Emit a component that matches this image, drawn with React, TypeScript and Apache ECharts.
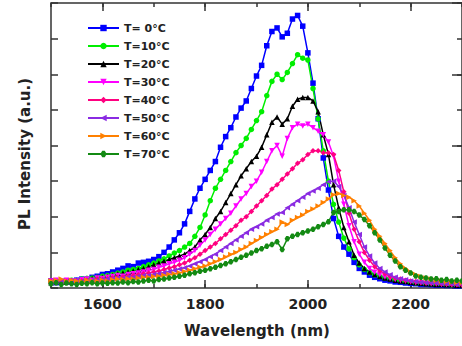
import React, { useEffect, useRef } from "react";
import * as echarts from "echarts";

const wavelengths: number[] = Array.from({ length: 81 }, (_, i) => 1500 + 10 * i);

const seriesNames = ["T= 0°C", "T=10°C", "T=20°C", "T=30°C", "T=40°C", "T=50°C", "T=60°C", "T=70°C"];

const t0 = [
  0.2, 0.15, 0.18, 0.2, 0.17, 0.22, 0.25, 0.24, 0.3, 0.33,
  0.38, 0.4, 0.45, 0.5, 0.55, 0.62, 0.6, 0.7, 0.72, 0.75,
  0.8, 0.88, 1.0, 1.15, 1.35, 1.55, 1.8, 2.15, 2.5, 2.8,
  3.05, 3.3, 3.55, 3.95, 4.25, 4.5, 4.8, 5.05, 5.25, 5.6,
  5.95, 6.25, 6.8, 7.2, 7.3, 7.05, 7.15, 7.55, 7.65, 7.35,
  6.6, 5.75, 4.75, 3.65, 2.75, 1.95, 1.45, 1.15, 0.95, 0.72,
  0.55, 0.45, 0.36, 0.3, 0.26, 0.22, 0.2, 0.17, 0.16, 0.14,
  0.13, 0.12, 0.1, 0.1, 0.09, 0.08, 0.08, 0.07, 0.07, 0.06,
  0.06,
];
const t10 = [
  0.18, 0.2, 0.16, 0.2, 0.22, 0.2, 0.25, 0.27, 0.28, 0.3,
  0.33, 0.35, 0.38, 0.42, 0.45, 0.5, 0.52, 0.55, 0.6, 0.65,
  0.7, 0.76, 0.82, 0.9, 0.98, 1.05, 1.15, 1.25, 1.45, 1.7,
  2.05, 2.45, 2.8, 3.05, 3.3, 3.55, 3.8, 4.0, 4.2, 4.45,
  4.7, 4.95, 5.4, 5.8, 6.0, 5.85, 6.05, 6.3, 6.55, 6.45,
  6.4, 5.6, 4.75, 3.85, 3.0, 2.35, 1.85, 1.4, 1.1, 0.85,
  0.65, 0.52, 0.43, 0.37, 0.32, 0.28, 0.25, 0.22, 0.2, 0.18,
  0.16, 0.14, 0.13, 0.12, 0.11, 0.1, 0.1, 0.09, 0.08, 0.08,
  0.07,
];
const t20 = [
  0.15, 0.18, 0.2, 0.17, 0.2, 0.22, 0.2, 0.25, 0.27, 0.3,
  0.3, 0.33, 0.36, 0.4, 0.42, 0.45, 0.48, 0.52, 0.55, 0.6,
  0.65, 0.7, 0.75, 0.8, 0.85, 0.9, 0.95, 1.05, 1.15, 1.35,
  1.5, 1.7, 1.95, 2.15, 2.4, 2.65, 2.9, 3.15, 3.35, 3.55,
  3.7, 3.95, 4.3, 4.65, 4.8, 4.6, 4.75, 5.1, 5.3, 5.35,
  5.35, 5.25, 4.95, 4.3, 3.75, 2.9, 2.25, 1.7, 1.3, 0.92,
  0.7, 0.55, 0.45, 0.38, 0.32, 0.28, 0.25, 0.22, 0.2, 0.18,
  0.16, 0.15, 0.13, 0.12, 0.11, 0.1, 0.1, 0.09, 0.09, 0.08,
  0.08,
];
const t30 = [
  0.2, 0.22, 0.18, 0.22, 0.2, 0.2, 0.23, 0.25, 0.22, 0.28,
  0.27, 0.3, 0.32, 0.35, 0.33, 0.38, 0.4, 0.42, 0.45, 0.5,
  0.52, 0.58, 0.62, 0.68, 0.72, 0.78, 0.85, 0.95, 1.05, 1.2,
  1.35, 1.5, 1.65, 1.8, 1.95, 2.1, 2.3, 2.5, 2.65, 2.85,
  3.0, 3.25, 3.55, 3.85, 4.0, 3.7, 4.2, 4.5, 4.6, 4.55,
  4.6, 4.5, 4.4, 4.3, 4.1, 3.7, 3.0, 2.35, 1.75, 1.3,
  0.95, 0.72, 0.55, 0.44, 0.37, 0.31, 0.27, 0.24, 0.21, 0.19,
  0.17, 0.15, 0.14, 0.13, 0.12, 0.11, 0.1, 0.1, 0.09, 0.09,
  0.08,
];
const t40 = [
  0.18, 0.15, 0.2, 0.18, 0.2, 0.17, 0.2, 0.22, 0.2, 0.25,
  0.24, 0.26, 0.28, 0.3, 0.3, 0.33, 0.35, 0.37, 0.4, 0.42,
  0.45, 0.48, 0.52, 0.56, 0.6, 0.65, 0.7, 0.78, 0.85, 0.95,
  1.05, 1.15, 1.25, 1.38, 1.5, 1.62, 1.75, 1.9, 2.0, 2.15,
  2.3, 2.45, 2.6, 2.78, 2.9, 3.05, 3.2, 3.35, 3.5, 3.6,
  3.75, 3.85, 3.85, 3.8, 3.8, 3.75, 3.3, 2.7, 2.1, 1.65,
  1.3, 1.0, 0.78, 0.6, 0.48, 0.4, 0.33, 0.28, 0.25, 0.22,
  0.2, 0.18, 0.16, 0.15, 0.14, 0.13, 0.12, 0.11, 0.1, 0.1,
  0.09,
];
const t50 = [
  0.15, 0.18, 0.16, 0.17, 0.18, 0.2, 0.18, 0.2, 0.22, 0.22,
  0.24, 0.25, 0.26, 0.28, 0.27, 0.3, 0.3, 0.33, 0.35, 0.36,
  0.38, 0.4, 0.43, 0.46, 0.5, 0.53, 0.57, 0.62, 0.68, 0.74,
  0.8, 0.88, 0.95, 1.05, 1.15, 1.25, 1.35, 1.45, 1.55, 1.65,
  1.72, 1.8, 1.9, 1.98, 2.08, 2.12, 2.25, 2.35, 2.45, 2.55,
  2.65, 2.72, 2.8, 2.9, 2.98, 3.0, 2.85, 2.6, 2.25, 1.85,
  1.5, 1.15, 0.9, 0.7, 0.55, 0.45, 0.37, 0.3, 0.26, 0.23,
  0.2, 0.18, 0.16, 0.15, 0.14, 0.13, 0.12, 0.12, 0.11, 0.1,
  0.1,
];
const t60 = [
  0.2, 0.22, 0.25, 0.2, 0.22, 0.2, 0.18, 0.22, 0.2, 0.2,
  0.22, 0.2, 0.23, 0.25, 0.24, 0.26, 0.25, 0.28, 0.3, 0.3,
  0.32, 0.33, 0.36, 0.38, 0.4, 0.43, 0.46, 0.5, 0.54, 0.58,
  0.62, 0.68, 0.74, 0.8, 0.87, 0.94, 1.0, 1.08, 1.15, 1.25,
  1.33, 1.42, 1.5, 1.58, 1.65, 1.85, 1.78, 1.9, 1.98, 2.05,
  2.15, 2.22, 2.3, 2.4, 2.5, 2.62, 2.65, 2.6, 2.55, 2.45,
  2.3, 2.1, 1.9, 1.65, 1.45, 1.25, 1.05, 0.85, 0.68, 0.55,
  0.45, 0.38, 0.32, 0.28, 0.25, 0.22, 0.2, 0.18, 0.17, 0.16,
  0.15,
];
const t70 = [
  0.12, 0.15, 0.1, 0.14, 0.12, 0.1, 0.13, 0.12, 0.15, 0.12,
  0.14, 0.13, 0.15, 0.14, 0.17, 0.15, 0.18, 0.17, 0.2, 0.22,
  0.2, 0.24, 0.25, 0.28, 0.3, 0.33, 0.36, 0.4, 0.43, 0.47,
  0.5, 0.54, 0.58, 0.63, 0.68, 0.74, 0.8, 0.86, 0.92, 0.98,
  1.05, 1.1, 1.17, 1.22, 1.3, 1.08, 1.38, 1.45, 1.5, 1.55,
  1.6, 1.65, 1.72, 1.78, 1.86, 2.12, 2.15, 2.2, 2.2, 2.15,
  2.05, 1.92, 1.75, 1.55, 1.35, 1.12, 0.92, 0.76, 0.6, 0.5,
  0.42, 0.34, 0.3, 0.28, 0.25, 0.26, 0.22, 0.24, 0.2, 0.22,
  0.2,
];

const xMajorTicks = [1600, 1800, 2000, 2200];

const allSeries = [t0, t10, t20, t30, t40, t50, t60, t70];
const colors = ["#0000ff", "#00ee00", "#000000", "#ff00ff", "#ff0080", "#8a2be2", "#ff8000", "#138a13"];
const symbols = [
  "rect",
  "circle",
  "triangle",
  "path://M0,0 L10,0 L5,10 Z",
  "diamond",
  "path://M10,0 L10,10 L0,5 Z",
  "path://M0,0 L10,5 L0,10 Z",
  "path://M3,0 L7,0 L10,5 L7,10 L3,10 L0,5 Z",
];

const FONT = '"DejaVu Sans", "Liberation Sans", sans-serif';
const AXIS_COLOR = "#333";

export default function App() {
  const ref = useRef<HTMLDivElement>(null);
  useEffect(() => {
    if (!ref.current) return;
    const chart = echarts.init(ref.current, undefined, { renderer: "svg" });
    const common = { min: 1500, max: 2300, type: "value" as const, splitLine: { show: false } };
    const hiddenLine = { show: false, onZero: false };
    chart.setOption({
      animation: false,
      backgroundColor: "#fff",
      grid: {
        left: 51,
        top: 3,
        width: 414,
        height: 285,
        show: true,
        borderColor: AXIS_COLOR,
        borderWidth: 1.5,
        backgroundColor: "transparent",
      },
      legend: {
        orient: "vertical",
        left: 82,
        top: 16,
        itemWidth: 31,
        itemHeight: 8,
        itemGap: 4,
        selectedMode: false,
        data: seriesNames,
        textStyle: { fontFamily: FONT, fontWeight: "bold", fontSize: 11, color: "#222", lineHeight: 14 },
      },
      xAxis: [
        {
          ...common,
          position: "bottom",
          axisLine: hiddenLine,
          axisTick: { show: true, inside: true, length: 8, customValues: xMajorTicks, lineStyle: { color: AXIS_COLOR, width: 1.5 } },
          axisLabel: {
            show: true,
            customValues: xMajorTicks,
            formatter: (v: number) => String(v),
            margin: 9,
            fontFamily: FONT,
            fontWeight: "bold",
            fontSize: 14,
            color: "#222",
          },
        },
        {
          ...common,
          position: "bottom",
          interval: 100,
          axisLine: hiddenLine,
          axisTick: { show: true, inside: true, length: 4, lineStyle: { color: AXIS_COLOR, width: 1.5 } },
          axisLabel: { show: false },
        },
        {
          ...common,
          position: "top",
          axisLine: hiddenLine,
          axisTick: { show: true, inside: true, length: 8, customValues: xMajorTicks, lineStyle: { color: AXIS_COLOR, width: 1.5 } },
          axisLabel: { show: false },
        },
        {
          ...common,
          position: "top",
          interval: 100,
          axisLine: hiddenLine,
          axisTick: { show: true, inside: true, length: 4, lineStyle: { color: AXIS_COLOR, width: 1.5 } },
          axisLabel: { show: false },
        },
      ],
      yAxis: [
        {
          type: "value",
          min: 0,
          max: 8,
          interval: 1,
          position: "left",
          splitLine: { show: false },
          axisLine: hiddenLine,
          axisTick: { show: true, inside: true, length: 7, lineStyle: { color: AXIS_COLOR, width: 1.5 } },
          axisLabel: { show: false },
        },
        {
          type: "value",
          min: 0,
          max: 8,
          interval: 2,
          position: "right",
          splitLine: { show: false },
          axisLine: hiddenLine,
          axisTick: { show: true, inside: true, length: 10, lineStyle: { color: AXIS_COLOR, width: 1.5 } },
          axisLabel: { show: false },
        },
        {
          type: "value",
          min: 0,
          max: 8,
          interval: 1,
          position: "right",
          splitLine: { show: false },
          axisLine: hiddenLine,
          axisTick: { show: true, inside: true, length: 5, lineStyle: { color: AXIS_COLOR, width: 1.5 } },
          axisLabel: { show: false },
        },
      ],
      graphic: [
        {
          type: "text",
          x: 25,
          y: 154,
          rotation: Math.PI / 2,
          style: {
            text: "PL Intensity (a.u.)",
            font: `bold 15px ${FONT}`,
            fill: "#222",
            align: "center",
            verticalAlign: "middle",
          },
        },
        {
          type: "text",
          x: 257,
          y: 331,
          style: {
            text: "Wavelength (nm)",
            font: `bold 15px ${FONT}`,
            fill: "#222",
            align: "center",
            verticalAlign: "middle",
          },
        },
      ],
      series: allSeries.map((vals, k) => ({
        name: seriesNames[k],
        type: "line",
        xAxisIndex: 0,
        yAxisIndex: 0,
        data: wavelengths.map((w, i) => [w, vals[i]]),
        symbol: symbols[k],
        symbolSize: 5.5,
        showSymbol: true,
        color: colors[k],
        itemStyle: { color: colors[k] },
        lineStyle: { color: colors[k], width: 1.5 },
      })),
    });
    return () => chart.dispose();
  }, []);
  return (
    <div
      ref={ref}
      style={{ position: "fixed", left: 0, top: 0, width: 462, height: 346, background: "#fff" }}
    />
  );
}
